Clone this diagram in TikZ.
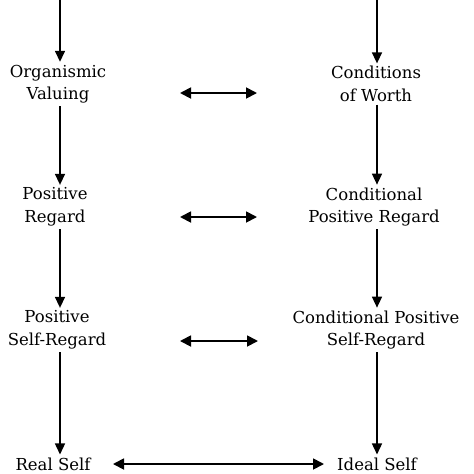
\documentclass[tikz,border=0pt]{standalone}
\usepackage{fontspec}
\setmainfont{DejaVu Serif}
\usetikzlibrary{arrows.meta}
\begin{document}
\begin{tikzpicture}[x=1pt,y=-1pt,
 lbl/.style={align=center,font=\fontsize{16.5}{22.5}\selectfont,inner xsep=2pt,inner ysep=3pt,outer sep=0pt},
 conn/.style={line width=1.5pt,-{Triangle[length=11pt,width=10pt]}},
 dconn/.style={line width=1.8pt,{Triangle[length=11pt,width=11pt]}-{Triangle[length=11pt,width=11pt]}}]
\useasboundingbox (0,0) rectangle (474,474);
\coordinate (lt) at (60,0);
\coordinate (rt) at (377,0);
\node[lbl] (ov) at (58,84) {Organismic\\Valuing};
\node[lbl] (cw) at (376,84) {Conditions\\of Worth};
\node[lbl] (pr) at (55,207) {Positive\\Regard};
\node[lbl] (cpr) at (374,207) {Conditional\\Positive Regard};
\node[lbl] (psr) at (57,330) {Positive\\Self-Regard};
\node[lbl] (cpsr) at (376,330) {Conditional Positive\\Self-Regard};
\node[lbl,anchor=base] (rs) at (53,470) {Real Self};
\node[lbl,anchor=base] (is) at (377,470) {Ideal Self};
\coordinate (a1) at (180,93);
\coordinate (b1) at (257,93);
\coordinate (a2) at (180,217);
\coordinate (b2) at (257,217);
\coordinate (a3) at (180,341);
\coordinate (b3) at (258,341);
\coordinate (a4) at (113,464);
\coordinate (b4) at (324,464);
\draw[conn] (lt) -- (ov.north -| lt);
\draw[conn] (rt) -- (cw.north -| rt);
\draw[conn] (ov.south -| lt) -- (pr.north -| lt);
\draw[conn] (cw.south -| rt) -- (cpr.north -| rt);
\draw[conn] (pr.south -| lt) -- (psr.north -| lt);
\draw[conn] (cpr.south -| rt) -- (cpsr.north -| rt);
\draw[conn] (psr.south -| lt) -- (rs.north -| lt);
\draw[conn] (cpsr.south -| rt) -- (is.north -| rt);
\draw[dconn] (a1) -- (b1);
\draw[dconn] (a2) -- (b2);
\draw[dconn] (a3) -- (b3);
\draw[dconn] (a4) -- (b4);
\end{tikzpicture}
\end{document}
